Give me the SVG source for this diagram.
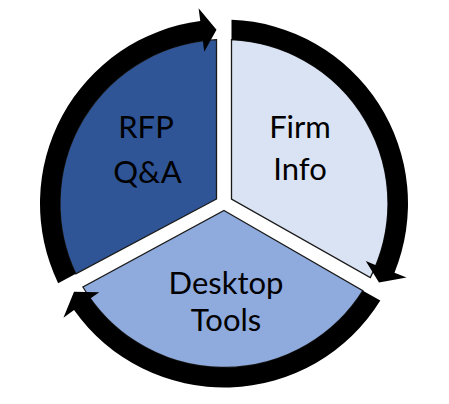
<svg xmlns="http://www.w3.org/2000/svg" width="449" height="404" viewBox="0 0 449 404">
  <style>
    .sector { stroke: #1a1a1a; stroke-width: 1.3; stroke-linejoin: miter; }
    .ring { fill: #000000; }
    .label { font-family: Lato, "Liberation Sans", sans-serif; font-size: 31px; fill: #000000; text-anchor: middle; }
  </style>
  <rect x="0" y="0" width="449" height="404" fill="#ffffff"/>
  <g id="node-rfp">
    <path class="sector" fill="#2F5597" d="M216.5 199.0 L75.83 273.79 A164 164 0 0 1 216.5 39.67 Z"/>
    <text class="label" x="146" y="137.5">RFP</text>
    <text class="label" x="147.5" y="182.5">Q&amp;A</text>
  </g>
  <g id="node-firm">
    <path class="sector" fill="#DAE3F3" d="M231.5 199.13 L231.5 39.67 A164 164 0 0 1 370.29 277.65 Z"/>
    <text class="label" x="300" y="137.5">Firm</text>
    <text class="label" x="300" y="180">Info</text>
  </g>
  <g id="node-desktop">
    <path class="sector" fill="#8FAADC" d="M224 210.5 L362.9 290.7 A164 164 0 0 1 82.9 287.0 Z"/>
    <text class="label" x="226" y="294">Desktop</text>
    <text class="label" x="226" y="331">Tools</text>
  </g>
  <g id="connectors">
    <path class="ring" d="M58.15 283.19 A184 184 0 0 1 200.27 21.04 L198.59 8.14 L216.50 29.66 L204.27 51.78 L202.85 40.87 A164 164 0 0 0 75.83 273.79 Z"/>
    <path class="ring" d="M231.50 19.65 A184 184 0 0 1 394.49 272.69 L406.54 277.58 L379.00 282.58 L365.77 261.04 L375.96 265.17 A164 164 0 0 0 231.50 39.67 Z"/>
    <path class="ring" d="M380.32 300.56 A184 184 0 0 1 74.04 310.12 L63.44 317.65 L74.03 291.74 L99.30 292.15 L90.34 298.53 A164 164 0 0 0 362.90 290.70 Z"/>
  </g>
</svg>
